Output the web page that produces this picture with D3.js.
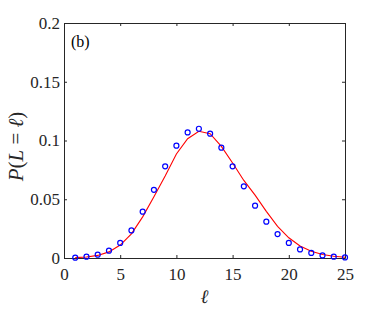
<!DOCTYPE html>
<html>
<head>
<meta charset="utf-8">
<script src="https://cdn.jsdelivr.net/npm/d3@7"></script>
<style>
  body { margin: 0; background: #fff; }
  svg text { font-family: "Liberation Serif", "Times New Roman", serif; }
</style>
</head>
<body>
<div id="root"></div>
<script>
// simulation (circles) and theory (red line)
const lengths = d3.range(1, 26);
const simValues = [0.0003, 0.0011, 0.0028, 0.0062, 0.0128, 0.0235, 0.0394, 0.058, 0.078, 0.0956,
  0.1069, 0.110, 0.1058, 0.0939, 0.078, 0.061, 0.0445, 0.0309, 0.0204, 0.0128,
  0.0073, 0.0043, 0.0022, 0.0011, 0.0005];
const theoryValues = [0.0003, 0.0009, 0.0022, 0.0052, 0.011, 0.0205, 0.035, 0.0522, 0.0698, 0.0885,
  0.1015, 0.1078, 0.1058, 0.095, 0.0809, 0.066, 0.0535, 0.0397, 0.027, 0.0172,
  0.0102, 0.0058, 0.003, 0.0015, 0.0007];
const xTicks = [0, 5, 10, 15, 20, 25];
const yTicks = [0, 0.05, 0.1, 0.15, 0.2];

const width = 382, height = 310;
const margin = { top: 23, right: 37, bottom: 52, left: 64 };
const innerW = width - margin.left - margin.right;
const innerH = height - margin.top - margin.bottom;

const svg = d3.select('#root').append('svg')
  .attr('width', width)
  .attr('height', height);

const g = svg.append('g')
  .attr('transform', `translate(${margin.left},${margin.top})`);

const x = d3.scaleLinear().domain([0, 25]).range([0, innerW]);
const y = d3.scaleLinear().domain([0, 0.2]).range([innerH, 0]);

const axisColor = '#262626';
const tickLen = 3;

// box with inward ticks on all sides
function styleAxis(sel) {
  sel.select('.domain').attr('stroke', axisColor).attr('stroke-width', 1);
  sel.selectAll('.tick line').attr('stroke', axisColor);
  sel.selectAll('.tick text')
    .attr('fill', axisColor)
    .attr('font-size', 17)
    .style('font-family', '"Liberation Serif", serif');
}

const fmtY = d => d === 0 ? '0' : String(d);

g.append('g')
  .attr('transform', `translate(0,${innerH})`)
  .call(d3.axisBottom(x).tickValues(xTicks).tickSize(-tickLen).tickSizeOuter(0).tickPadding(8).tickFormat(d3.format('d')))
  .call(styleAxis)
  .selectAll('.tick text').attr('dy', '0.8em');

g.append('g')
  .call(d3.axisTop(x).tickValues(xTicks).tickSize(-tickLen).tickSizeOuter(0).tickFormat(''))
  .call(styleAxis);

g.append('g')
  .call(d3.axisLeft(y).tickValues(yTicks).tickSize(-tickLen).tickSizeOuter(0).tickPadding(4).tickFormat(fmtY))
  .call(styleAxis);

g.append('g')
  .attr('transform', `translate(${innerW},0)`)
  .call(d3.axisRight(y).tickValues(yTicks).tickSize(-tickLen).tickSizeOuter(0).tickFormat(''))
  .call(styleAxis);

// theory curve
const line = d3.line()
  .x((d, i) => x(lengths[i]))
  .y(d => y(d));

g.append('path')
  .datum(theoryValues)
  .attr('fill', 'none')
  .attr('stroke', '#ff0000')
  .attr('stroke-width', 1.1)
  .attr('d', line);

// simulation points
g.selectAll('circle.sim')
  .data(simValues)
  .enter().append('circle')
  .attr('class', 'sim')
  .attr('cx', (d, i) => x(lengths[i]))
  .attr('cy', d => y(d))
  .attr('r', 2.5)
  .attr('fill', 'none')
  .attr('stroke', '#0000ff')
  .attr('stroke-width', 1.2);

// panel label
g.append('text')
  .attr('x', 7)
  .attr('y', 24)
  .attr('font-size', 16)
  .attr('fill', '#000')
  .text('(b)');

// axis labels
svg.append('text')
  .attr('x', margin.left + innerW / 2)
  .attr('y', 303)
  .attr('text-anchor', 'middle')
  .attr('font-size', 19)
  .attr('fill', axisColor)
  .style('font-style', 'italic')
  .text('ℓ');

const yl = svg.append('text')
  .attr('transform', `translate(23,${margin.top + innerH / 2 + 6}) rotate(-90)`)
  .attr('text-anchor', 'middle')
  .attr('font-size', 21)
  .attr('fill', axisColor);
yl.append('tspan').style('font-style', 'italic').text('P');
yl.append('tspan').text('(');
yl.append('tspan').style('font-style', 'italic').text('L');
yl.append('tspan').text(' = ');
yl.append('tspan').style('font-style', 'italic').text('ℓ');
yl.append('tspan').text(')');
</script>
</body>
</html>
